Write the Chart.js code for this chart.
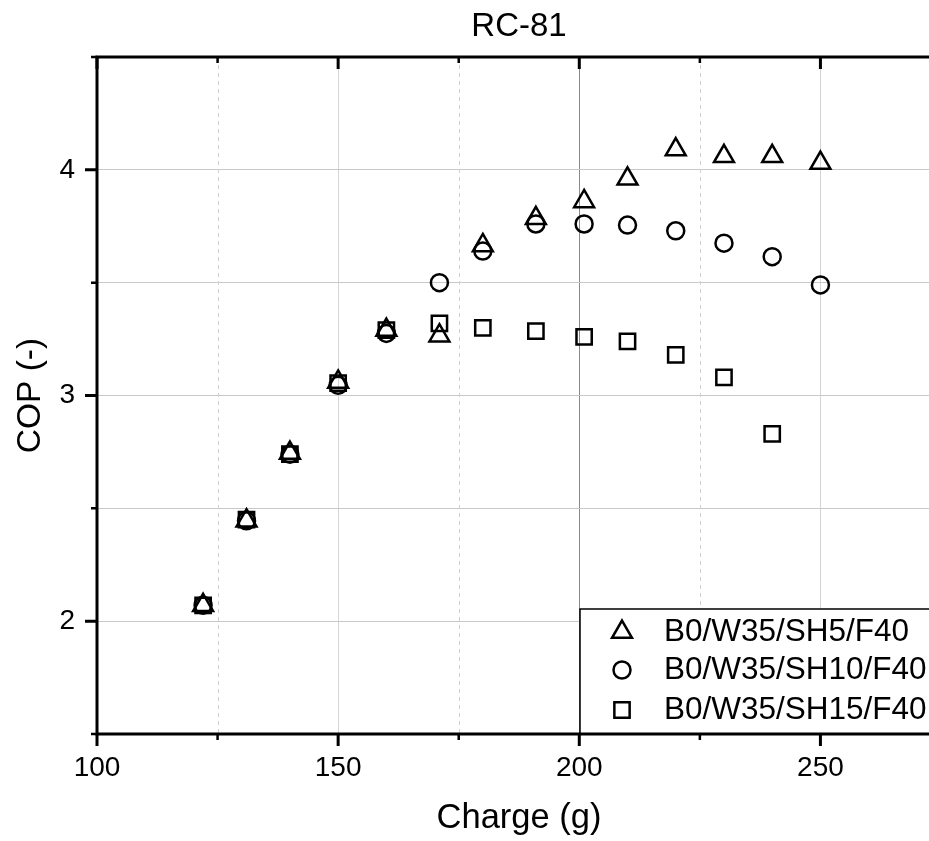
<!DOCTYPE html>
<html>
<head>
<meta charset="utf-8">
<script src="https://cdn.jsdelivr.net/npm/chart.js@4.4.1/dist/chart.umd.min.js"></script>
<style>
  html, body { margin: 0; padding: 0; background: #fff; overflow: hidden; }
  #wrap { width: 960px; height: 841px; }
</style>
</head>
<body>
<div id="wrap"><canvas id="c" width="960" height="841"></canvas></div>
<script>
// ---- data ----
const chartTitle = 'RC-81';
const xTitle = 'Charge (g)';
const yTitle = 'COP (-)';
const seriesLabels = ['B0/W35/SH5/F40', 'B0/W35/SH10/F40', 'B0/W35/SH15/F40'];

const chargeSH5  = [122, 131, 140, 150, 160, 171, 180, 191, 201, 210, 220, 230, 240, 250];
const copSH5     = [2.07, 2.445, 2.745, 3.06, 3.29, 3.265, 3.665, 3.785, 3.86, 3.96, 4.09, 4.06, 4.06, 4.03];

const chargeSH10 = [122, 131, 140, 150, 160, 171, 180, 191, 201, 210, 220, 230, 240, 250];
const copSH10    = [2.07, 2.445, 2.74, 3.045, 3.275, 3.50, 3.64, 3.76, 3.76, 3.755, 3.73, 3.675, 3.615, 3.49];

const chargeSH15 = [122, 131, 140, 150, 160, 171, 180, 191, 201, 210, 220, 230, 240];
const copSH15    = [2.07, 2.45, 2.74, 3.055, 3.29, 3.32, 3.30, 3.285, 3.26, 3.24, 3.18, 3.08, 2.83];

const xMin = 100, xMax = 275, xStep = 25, xLabelStep = 50;
const yMin = 1.5, yMax = 4.5, yStep = 0.5, yLabelStep = 1;

const FONT = '"Liberation Sans", Arial, Helvetica, sans-serif';

function pts(xs, ys) { return xs.map((x, i) => ({ x: x, y: ys[i] })); }

const styles = [
  { pointStyle: 'triangle', pointRadius: 11.5 },
  { pointStyle: 'circle',   pointRadius: 8.5 },
  { pointStyle: 'rect',     pointRadius: 10.8 }
];
const seriesData = [pts(chargeSH5, copSH5), pts(chargeSH10, copSH10), pts(chargeSH15, copSH15)];

const datasets = seriesData.map((d, i) => ({
  label: seriesLabels[i],
  data: d,
  showLine: false,
  pointStyle: styles[i].pointStyle,
  pointRadius: styles[i].pointRadius,
  pointHoverRadius: styles[i].pointRadius,
  pointBorderWidth: 2.5,
  pointBorderColor: '#000',
  pointBackgroundColor: 'rgba(0,0,0,0)',
  borderColor: '#000',
  backgroundColor: 'rgba(0,0,0,0)'
}));

// minor dashed gridlines (under data)
const minorGrid = {
  id: 'minorGrid',
  beforeDatasetsDraw(chart) {
    const { ctx, chartArea: a, scales: { x } } = chart;
    ctx.save();
    ctx.strokeStyle = '#cfcfcf';
    ctx.lineWidth = 1;
    ctx.setLineDash([4, 4]);
    for (let v = xMin + xStep; v < xMax; v += xStep) {
      if (v % xLabelStep === 0) continue;
      const px = Math.round(x.getPixelForValue(v)) + 0.5;
      ctx.beginPath(); ctx.moveTo(px, a.top); ctx.lineTo(px, a.bottom); ctx.stroke();
    }
    ctx.restore();
  }
};

// legend box inside the plot, bottom-right
const boxLegend = {
  id: 'boxLegend',
  afterDatasetsDraw(chart) {
    const { ctx, chartArea: a } = chart;
    const left = 580, top = 609;
    ctx.save();
    ctx.fillStyle = '#fff';
    ctx.fillRect(left, top, 420, a.bottom - top);
    ctx.strokeStyle = '#000';
    ctx.lineWidth = 1.5;
    ctx.strokeRect(left, top, 420, a.bottom - top);
    const rows = [632, 670, 710];
    chart.data.datasets.forEach((ds, i) => {
      ctx.save();
      ctx.strokeStyle = '#000';
      ctx.fillStyle = 'rgba(0,0,0,0)';
      ctx.lineWidth = 2.5;
      Chart.helpers.drawPoint(ctx, { pointStyle: ds.pointStyle, radius: ds.pointRadius, borderWidth: 2.5, rotation: 0 }, 622, rows[i]);
      ctx.restore();
      ctx.fillStyle = '#000';
      ctx.font = '31.5px ' + FONT;
      ctx.textBaseline = 'middle';
      ctx.textAlign = 'left';
      ctx.fillText(ds.label, 664, rows[i]);
    });
    ctx.restore();
  }
};

// frame: thick axis lines, ticks (bottom/left outward, top/right inward)
const frame = {
  id: 'frame',
  afterDraw(chart) {
    const { ctx, chartArea: a, scales: { x, y } } = chart;
    ctx.save();
    ctx.strokeStyle = '#000';
    ctx.lineCap = 'butt';
    for (let v = xMin; v <= xMax + 1e-9; v += xStep) {
      const px = x.getPixelForValue(v);
      const major = v % xLabelStep === 0;
      const len = major ? 12 : 6;
      ctx.lineWidth = major ? 3 : 2.5;
      ctx.beginPath();
      ctx.moveTo(px, a.bottom); ctx.lineTo(px, a.bottom + len);
      ctx.moveTo(px, a.top); ctx.lineTo(px, a.top + len);
      ctx.stroke();
    }
    for (let v = yMin; v <= yMax + 1e-9; v += yStep) {
      const py = y.getPixelForValue(v);
      const major = Math.abs(v - Math.round(v)) < 1e-9;
      const len = major ? 12 : 6;
      ctx.lineWidth = major ? 3 : 2.5;
      ctx.beginPath();
      ctx.moveTo(a.left, py); ctx.lineTo(a.left - len, py);
      ctx.moveTo(a.right, py); ctx.lineTo(a.right - len, py);
      ctx.stroke();
    }
    ctx.lineWidth = 3;
    ctx.lineCap = 'square';
    ctx.beginPath();
    ctx.moveTo(a.left, a.top); ctx.lineTo(a.right, a.top);
    ctx.moveTo(a.left, a.bottom); ctx.lineTo(a.right, a.bottom);
    ctx.moveTo(a.left, a.top); ctx.lineTo(a.left, a.bottom);
    ctx.moveTo(a.right, a.top); ctx.lineTo(a.right, a.bottom);
    ctx.stroke();
    ctx.restore();
  }
};

new Chart(document.getElementById('c'), {
  type: 'scatter',
  data: { datasets: datasets },
  plugins: [minorGrid, boxLegend, frame],
  options: {
    responsive: false,
    animation: false,
    devicePixelRatio: 1,
    layout: { padding: { left: 0, right: 19, top: 0, bottom: 0 } },
    plugins: {
      legend: { display: false },
      tooltip: { enabled: false },
      title: {
        display: true,
        text: chartTitle,
        fullSize: false,
        color: '#000',
        font: { family: FONT, size: 33, weight: 'normal', lineHeight: 1.2 },
        padding: { top: 7, bottom: 10.4 }
      }
    },
    scales: {
      x: {
        type: 'linear',
        position: 'bottom',
        min: xMin, max: xMax,
        afterFit(s) { s.height = 107; },
        border: { display: false },
        grid: {
          drawTicks: false,
          lineWidth: 1,
          color(ctx) {
            const v = ctx.tick ? ctx.tick.value : 0;
            if (v % xLabelStep !== 0) return 'rgba(0,0,0,0)';
            if (v === 200) return '#8a8a8a';
            return '#d4d4d4';
          }
        },
        ticks: {
          stepSize: xStep,
          autoSkip: false,
          maxRotation: 0,
          padding: 17,
          color: '#000',
          font: { family: FONT, size: 28, lineHeight: 1.2 },
          callback(v) { return v % xLabelStep === 0 ? String(v) : ''; }
        },
        title: {
          display: true,
          text: xTitle,
          color: '#000',
          font: { family: FONT, size: 34.5, lineHeight: 1.2 },
          padding: { top: 0, bottom: 1.5 }
        }
      },
      y: {
        type: 'linear',
        position: 'left',
        min: yMin, max: yMax,
        afterFit(s) { s.width = 97; },
        border: { display: false },
        grid: {
          drawTicks: false,
          lineWidth: 1,
          color: '#c8c8c8'
        },
        ticks: {
          stepSize: yStep,
          autoSkip: false,
          padding: 22,
          color: '#000',
          font: { family: FONT, size: 28, lineHeight: 1.2 },
          callback(v) { return Math.abs(v - Math.round(v)) < 1e-9 ? String(Math.round(v)) : ''; }
        },
        title: {
          display: true,
          text: yTitle,
          color: '#000',
          font: { family: FONT, size: 33.5, lineHeight: 1.2 },
          padding: { top: 10.5, bottom: 0 }
        }
      }
    }
  }
});
</script>
</body>
</html>
